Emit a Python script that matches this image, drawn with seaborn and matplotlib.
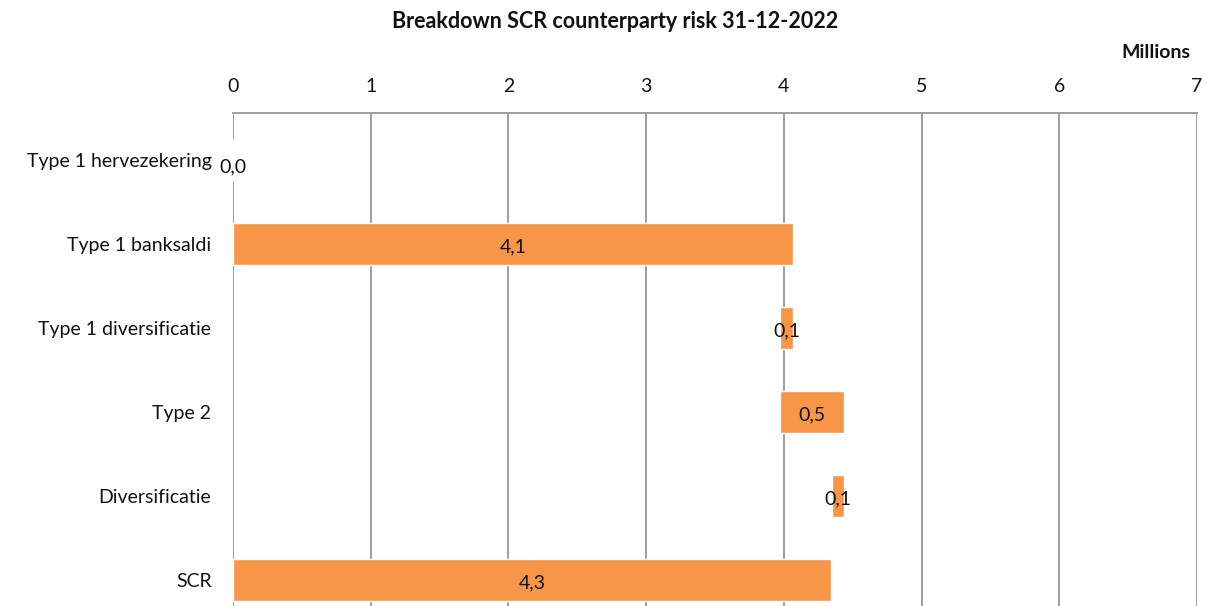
import numpy as np
import pandas as pd
import seaborn as sns
import matplotlib.pyplot as plt

# waterfall data, values in millions (negative = diversification benefit)
categories = ["Type 1 hervezekering", "Type 1 banksaldi", "Type 1 diversificatie",
              "Type 2", "Diversificatie", "SCR"]
values = [0.0, 4.07, -0.10, 0.47, -0.09, 4.34]
is_total = [False, False, False, False, False, True]
x_ticks = [0, 1, 2, 3, 4, 5, 6, 7]

orange = "#F79646"
grid_grey = "#9E9E9E"

sns.set_style("white")
plt.rcParams['font.family'] = ['Lato', 'DejaVu Sans']

# running total -> bar start and length
lefts, widths = [], []
run = 0.0
for v, tot in zip(values, is_total):
    if tot:
        lefts.append(0.0)
        widths.append(abs(v))
    else:
        lefts.append(min(run, run + v))
        widths.append(abs(v))
        run += v

df = pd.DataFrame(dict(category=categories, width=widths, left=lefts))

fig = plt.figure(figsize=(12.06, 6.06), dpi=100)
ax = fig.add_axes([233 / 1206, 0, 964 / 1206, 493 / 606])

sns.barplot(data=df, x="width", y="category", order=categories, orient="h",
            color=orange, saturation=1, width=0.5, errorbar=None,
            left=df["left"].values, ax=ax)

ax.set_xlim(0, 7)
ax.set_ylim(5.31, -0.56)
ax.set_xticks(x_ticks)
ax.set_xticklabels([str(t) for t in x_ticks])
ax.xaxis.tick_top()
ax.tick_params(axis="x", length=0, pad=13, labelsize=14, labelcolor="#111111")
ax.tick_params(axis="y", length=0, pad=15.5, labelsize=14, labelcolor="#111111")
ax.set_xlabel("")
ax.set_ylabel("")
for name, s in ax.spines.items():
    s.set_visible(name == "top")
ax.spines["top"].set_color(grid_grey)
ax.spines["top"].set_linewidth(1.4)
ax.grid(axis="x", color=grid_grey, lw=1.4)
ax.grid(axis="y", visible=False)
ax.set_axisbelow(True)

# data labels
for i, (l, w) in enumerate(zip(lefts, widths)):
    txt = f"{w:.1f}".replace(".", ",")
    if w < 0.01:
        ax.text(l, i + 0.08, txt, ha="center", va="center", fontsize=14,
                color="#111111")
    else:
        ax.text(l + w / 2, i + 0.03, txt, ha="center", va="center", fontsize=14,
                color="#111111")

fig.text(615 / 1206, 1 - 22 / 606, "Breakdown SCR counterparty risk 31-12-2022",
         ha="center", va="center", fontsize=15.5, fontweight="bold", color="#111111")
fig.text(1190 / 1206, 1 - 52 / 606, "Millions", ha="right", va="center",
         fontsize=14, fontweight="bold", color="#111111")

plt.savefig("out.png", dpi=100)
